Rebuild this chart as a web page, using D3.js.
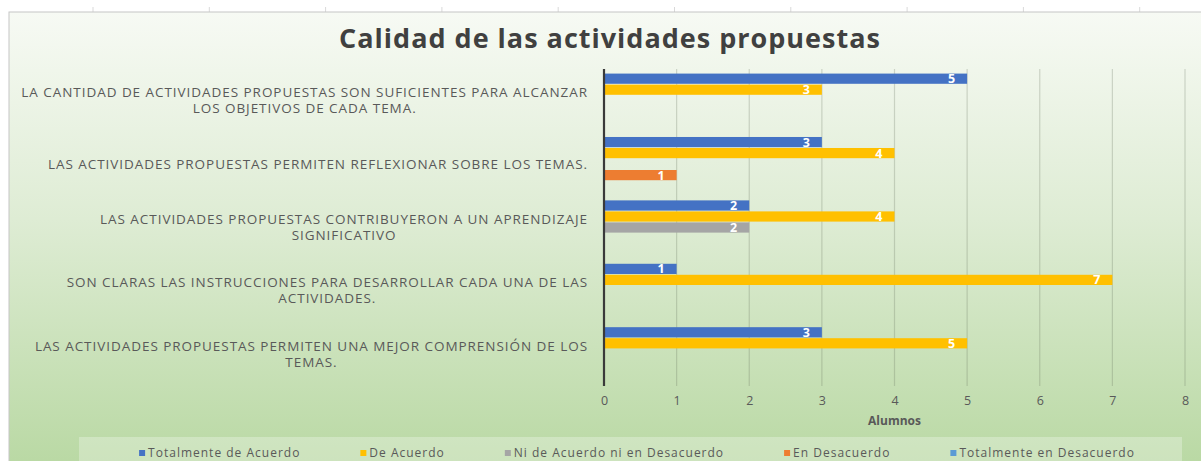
<!DOCTYPE html>
<html>
<head>
<meta charset="utf-8">
<script src="https://cdn.jsdelivr.net/npm/d3@7"></script>
<style>
  body { margin: 0; background: #fff; }
  text { font-family: "Open Sans", sans-serif; }
</style>
</head>
<body>
<div id="chart"></div>
<script>
// categories, top to bottom, already split into lines like the original
var categories = [
  ["LA CANTIDAD DE ACTIVIDADES PROPUESTAS SON SUFICIENTES PARA ALCANZAR", "LOS OBJETIVOS DE CADA TEMA."],
  ["LAS ACTIVIDADES PROPUESTAS PERMITEN REFLEXIONAR SOBRE LOS TEMAS."],
  ["LAS ACTIVIDADES PROPUESTAS CONTRIBUYERON A UN APRENDIZAJE", "SIGNIFICATIVO"],
  ["SON CLARAS LAS INSTRUCCIONES PARA DESARROLLAR CADA UNA DE LAS", "ACTIVIDADES."],
  ["LAS ACTIVIDADES PROPUESTAS PERMITEN UNA MEJOR COMPRENSIÓN DE LOS", "TEMAS."]
];

var series = ["Totalmente de Acuerdo", "De Acuerdo", "Ni de Acuerdo ni en Desacuerdo", "En Desacuerdo", "Totalmente en Desacuerdo"];
var colors = ["#4472c4", "#ffc000", "#a5a5a5", "#ed7d31", "#5b9bd5"];

// values per series, same order as categories
var totalmenteAcuerdo = [5, 3, 2, 1, 3];
var deAcuerdo         = [3, 4, 4, 7, 5];
var niAcuerdo         = [0, 0, 2, 0, 0];
var enDesacuerdo      = [0, 1, 0, 0, 0];
var totalDesacuerdo   = [0, 0, 0, 0, 0];

var xTicks = [0, 1, 2, 3, 4, 5, 6, 7, 8];

var values = [totalmenteAcuerdo, deAcuerdo, niAcuerdo, enDesacuerdo, totalDesacuerdo];

var W = 1201, H = 461;
var plot = {left: 604, right: 1185, top: 69, bottom: 386};

var svg = d3.select("#chart").append("svg")
  .attr("width", W)
  .attr("height", H);

// background gradient of the chart area
var defs = svg.append("defs");
var grad = defs.append("linearGradient")
  .attr("id", "bg")
  .attr("x1", 0).attr("y1", 0).attr("x2", 0).attr("y2", 1);
grad.append("stop").attr("offset", "0%").attr("stop-color", "#f7faf4");
grad.append("stop").attr("offset", "45%").attr("stop-color", "#deecd4");
grad.append("stop").attr("offset", "100%").attr("stop-color", "#b8d8a2");

svg.append("rect")
  .attr("width", W).attr("height", H)
  .attr("fill", "#ffffff");

// column marks of the sheet above the chart
svg.selectAll(".colmark")
  .data(d3.range(93, W, 116.3))
  .enter().append("line")
  .attr("x1", function(d) { return d; })
  .attr("x2", function(d) { return d; })
  .attr("y1", 7).attr("y2", 12)
  .attr("stroke", "#d9d9d9");

svg.append("rect")
  .attr("x", 9).attr("y", 12)
  .attr("width", W).attr("height", H)
  .attr("fill", "url(#bg)")
  .attr("stroke", "#c6c6c6");

// title
svg.append("text")
  .attr("x", 610).attr("y", 48)
  .attr("text-anchor", "middle")
  .attr("font-size", 27)
  .attr("font-weight", "bold")
  .attr("letter-spacing", 1)
  .attr("fill", "#404040")
  .text("Calidad de las actividades propuestas");

// scales
var x = d3.scaleLinear().domain([0, 8]).range([plot.left, plot.right]);
var y = d3.scaleBand()
  .domain(d3.range(categories.length))
  .range([plot.top, plot.bottom])
  .padding(0);
var ySub = d3.scaleBand()
  .domain(d3.range(series.length))
  .range([0, y.bandwidth()])
  .paddingOuter(0.38)
  .paddingInner(0);

// gridlines
svg.append("g")
  .selectAll("line")
  .data(xTicks.slice(1))
  .enter().append("line")
  .attr("x1", function(d) { return x(d); })
  .attr("x2", function(d) { return x(d); })
  .attr("y1", plot.top)
  .attr("y2", plot.bottom)
  .attr("stroke", "#5f6b58")
  .attr("stroke-opacity", 0.25)
  .attr("stroke-width", 1.2);

// bars
var rows = [];
values.forEach(function(vals, s) {
  vals.forEach(function(v, c) {
    if (v > 0) rows.push({s: s, c: c, v: v});
  });
});

svg.append("g")
  .selectAll("rect")
  .data(rows)
  .enter().append("rect")
  .attr("x", x(0))
  .attr("y", function(d) { return y(d.c) + ySub(d.s) + 0.4; })
  .attr("width", function(d) { return x(d.v) - x(0); })
  .attr("height", ySub.bandwidth() - 0.8)
  .attr("fill", function(d) { return colors[d.s]; });

// data labels
svg.append("g")
  .selectAll("text")
  .data(rows)
  .enter().append("text")
  .attr("x", function(d) { return x(d.v) - 12; })
  .attr("y", function(d) { return y(d.c) + ySub(d.s) + ySub.bandwidth() / 2 + 4.5; })
  .attr("text-anchor", "end")
  .attr("font-size", 12.5)
  .attr("font-weight", "bold")
  .attr("fill", "#ffffff")
  .text(function(d) { return d.v; });

// x axis
var xAxis = svg.append("g")
  .attr("transform", "translate(0," + plot.bottom + ")")
  .call(d3.axisBottom(x).tickValues(xTicks).tickSize(0).tickPadding(10));
xAxis.select(".domain").remove();
xAxis.selectAll("text")
  .attr("font-family", "Open Sans, sans-serif")
  .attr("font-size", 12.5)
  .attr("fill", "#595959");

// vertical axis line
svg.append("line")
  .attr("x1", x(0)).attr("x2", x(0))
  .attr("y1", plot.top).attr("y2", plot.bottom)
  .attr("stroke", "#3a3a3a")
  .attr("stroke-width", 2.2);

svg.append("text")
  .attr("x", (plot.left + plot.right) / 2)
  .attr("y", 425)
  .attr("text-anchor", "middle")
  .attr("font-size", 12)
  .attr("font-weight", "bold")
  .attr("fill", "#595959")
  .text("Alumnos");

// category labels: block right aligned, lines centered inside it
var labelRight = 588, lineH = 16;
categories.forEach(function(lines, i) {
  var g = svg.append("g");
  var texts = g.selectAll("text")
    .data(lines)
    .enter().append("text")
    .attr("font-size", 13.5)
    .attr("letter-spacing", 0.95)
    .attr("fill", "#595959")
    .attr("text-anchor", "middle")
    .text(function(d) { return d; });
  var maxW = 0;
  texts.each(function() { maxW = Math.max(maxW, this.getComputedTextLength()); });
  var cy = y(i) + y.bandwidth() / 2;
  var y0 = cy - (lines.length - 1) * lineH / 2 + 4.5;
  texts
    .attr("x", labelRight - maxW / 2)
    .attr("y", function(d, k) { return y0 + k * lineH; });
});

// legend
svg.append("rect")
  .attr("x", 79).attr("y", 437)
  .attr("width", 1103).attr("height", 40)
  .attr("fill", "#ffffff")
  .attr("fill-opacity", 0.28);

var legend = svg.append("g");
var items = legend.selectAll("g")
  .data(series)
  .enter().append("g");
items.append("rect")
  .attr("width", 6).attr("height", 6)
  .attr("y", -6)
  .attr("fill", function(d, i) { return colors[i]; });
items.append("text")
  .attr("x", 9)
  .attr("y", 1)
  .attr("font-size", 12)
  .attr("letter-spacing", 1.0)
  .attr("fill", "#595959")
  .text(function(d) { return d; });

var widths = [];
items.each(function() { widths.push(this.getBBox().width); });
var gap = 60;
var total = d3.sum(widths) + gap * (widths.length - 1);
var lx = 637 - total / 2;
items.attr("transform", function(d, i) {
  var pos = lx;
  lx += widths[i] + gap;
  return "translate(" + pos + ",456)";
});
</script>
</body>
</html>
